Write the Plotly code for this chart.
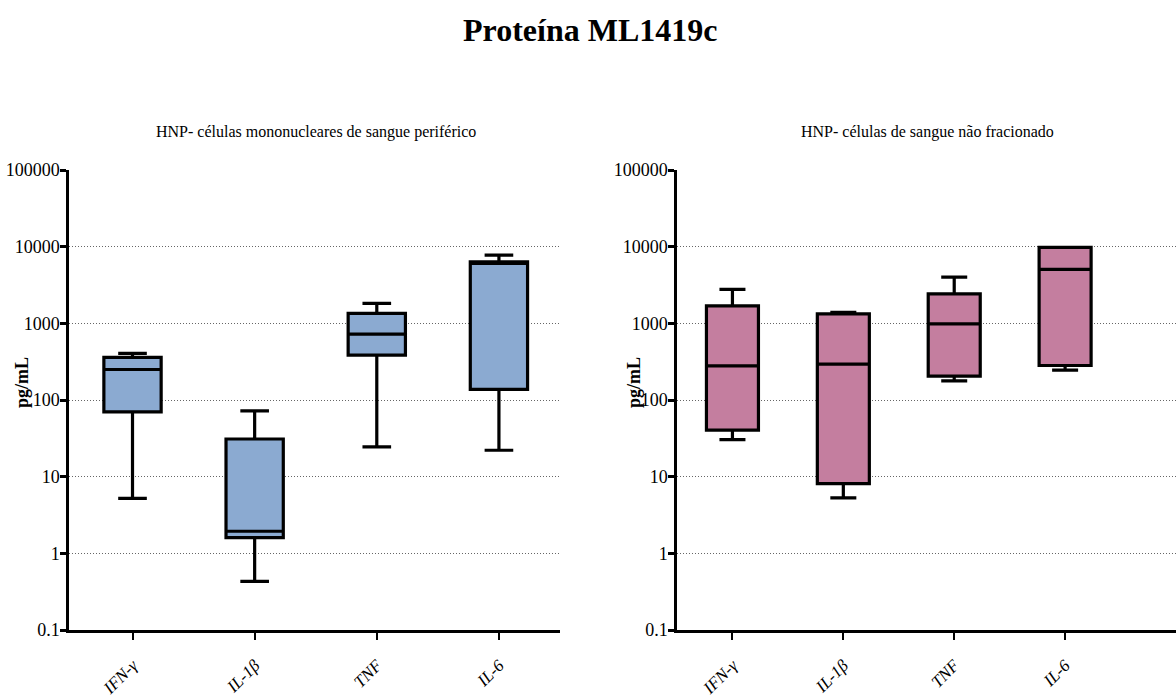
import plotly.graph_objects as go

categories = ["IFN-γ", "IL-1β", "TNF", "IL-6"]

# Left panel: PBMC
pbmc_low = [5.2, 0.43, 24.4, 22.1]
pbmc_q1 = [70, 1.6, 385, 138]
pbmc_med = [250, 1.94, 722, 6050]
pbmc_q3 = [359, 31, 1346, 6350]
pbmc_high = [405, 72, 1820, 7760]

# Right panel: whole blood
wb_low = [30.5, 5.3, 178, 245]
wb_q1 = [40.4, 8.1, 205, 282]
wb_med = [279, 293, 985, 5060]
wb_q3 = [1694, 1330, 2425, 9800]
wb_high = [2770, 1386, 4010, 9800]

ytickvals = [0.1, 1, 10, 100, 1000, 10000, 100000]
yticktext = ["0.1", "1", "10", "100", "1000", "10000", "100000"]

W, H = 1176, 697
FONT = "Liberation Serif"

fig = go.Figure()
fig.add_trace(go.Box(
    x=categories, q1=pbmc_q1, median=pbmc_med, q3=pbmc_q3,
    lowerfence=pbmc_low, upperfence=pbmc_high,
    fillcolor="#8BAAD1", line=dict(color="black", width=3.2),
    whiskerwidth=0.5, boxpoints=False, xaxis="x", yaxis="y", showlegend=False))
fig.add_trace(go.Box(
    x=categories, q1=wb_q1, median=wb_med, q3=wb_q3,
    lowerfence=wb_low, upperfence=wb_high,
    fillcolor="#C47E9F", line=dict(color="black", width=3.2),
    whiskerwidth=0.5, boxpoints=False, xaxis="x2", yaxis="y2", showlegend=False))

ydom = [1 - 630 / H, 1 - 170 / H]

def yax(anchor):
    return dict(type="log", range=[-1, 5], domain=ydom, anchor=anchor,
                tickvals=ytickvals, ticktext=yticktext, automargin=False,
                showline=True, linecolor="black", linewidth=2.5,
                ticks="outside", ticklen=6, tickwidth=2.5, tickcolor="black",
                showgrid=True, gridcolor="#666666", griddash="1px,2px", gridwidth=1,
                ticklabelstandoff=-3,
                tickfont=dict(family=FONT, size=18, color="black"),
                zeroline=False)

def xax(dom, rng, anchor):
    return dict(domain=dom, range=rng, anchor=anchor, type="category",
                automargin=False,
                showline=True, linecolor="black", linewidth=2.5,
                ticks="outside", ticklen=7, tickwidth=2, tickcolor="black",
                tickangle=-45, showgrid=False, ticklabelstandoff=9,
                tickfont=dict(family=FONT, size=17, color="black", style="italic"))

fig.update_layout(
    width=W, height=H,
    margin=dict(l=0, r=0, t=0, b=0),
    paper_bgcolor="white", plot_bgcolor="white",
    boxgap=0.33,
    xaxis=xax([69 / W, 560 / W], [-0.52, 3.5], "y"),
    yaxis=yax("x"),
    xaxis2=xax([677 / W, 1.0], [-0.5, 4.0], "y2"),
    yaxis2=yax("x2"),
    annotations=[
        dict(text="<b>Proteína ML1419c</b>", x=590 / W, y=1 - 30 / H, xref="paper", yref="paper",
             xanchor="center", yanchor="middle",
             showarrow=False, font=dict(family=FONT, size=32, color="black")),
        dict(text="HNP- células mononucleares de sangue periférico", x=316 / W, y=1 - 132 / H,
             xref="paper", yref="paper", showarrow=False, xanchor="center", yanchor="middle",
             font=dict(family=FONT, size=16, color="black")),
        dict(text="HNP- células de sangue não fracionado", x=927 / W, y=1 - 132 / H,
             xref="paper", yref="paper", showarrow=False, xanchor="center", yanchor="middle",
             font=dict(family=FONT, size=16, color="black")),
        dict(text="<b>pg/mL</b>", x=22 / W, y=1 - 383 / H, xref="paper", yref="paper",
             xanchor="center", yanchor="middle",
             showarrow=False, textangle=-90, font=dict(family=FONT, size=18, color="black")),
        dict(text="<b>pg/mL</b>", x=634 / W, y=1 - 383 / H, xref="paper", yref="paper",
             xanchor="center", yanchor="middle",
             showarrow=False, textangle=-90, font=dict(family=FONT, size=18, color="black")),
    ],
)

fig.write_html("out.html")
